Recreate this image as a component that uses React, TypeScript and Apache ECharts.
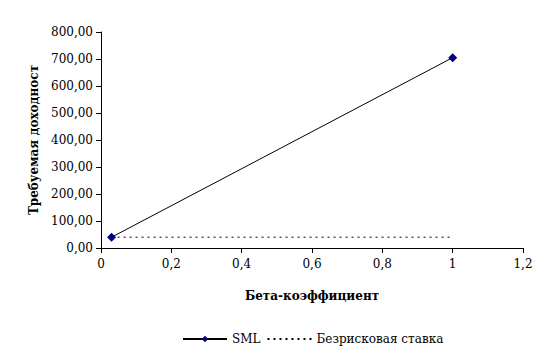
import React, { useEffect, useRef } from "react";
import * as echarts from "echarts";

const betaValues = [0.03, 1];
const smlValues = [40, 705];
const riskFreeValues = [40, 40];
const seriesNames = ["SML", "Безрисковая ставка"];
const xTitle = "Бета-коэффициент";
const yTitle = "Требуемая доходност";

const font = "DejaVu Serif";

export default function App() {
  const ref = useRef<HTMLDivElement>(null);
  useEffect(() => {
    if (!ref.current) return;
    const chart = echarts.init(ref.current, null, { renderer: "svg" });
    chart.setOption({
      animation: false,
      backgroundColor: "#ffffff",
      textStyle: { fontFamily: font, color: "#000" },
      grid: { left: 101, right: 31, top: 32, bottom: 114 },
      legend: {
        bottom: 12,
        left: 177,
        itemWidth: 44,
        itemHeight: 8,
        itemGap: 6,
        textStyle: { fontFamily: font, fontSize: 12, color: "#000" },
        data: [
          { name: seriesNames[0] },
          { name: seriesNames[1], itemStyle: { opacity: 0 } },
        ],
      },
      xAxis: {
        type: "value",
        min: 0,
        max: 1.2,
        interval: 0.2,
        name: xTitle,
        nameLocation: "middle",
        nameGap: 42,
        nameTextStyle: { fontFamily: font, fontSize: 12, fontWeight: "bold", color: "#000" },
        axisLine: { show: true, onZero: false, lineStyle: { color: "#000", width: 1 } },
        axisTick: { show: true, inside: false, length: 5, lineStyle: { color: "#000" } },
        axisLabel: {
          fontFamily: font,
          fontSize: 12,
          color: "#000",
          margin: 10,
          formatter: (v: number) => String(Math.round(v * 10) / 10).replace(".", ","),
        },
        splitLine: { show: false },
      },
      yAxis: {
        type: "value",
        min: 0,
        max: 800,
        interval: 100,
        name: yTitle,
        nameLocation: "middle",
        nameGap: 60,
        nameRotate: 90,
        nameTextStyle: { fontFamily: font, fontSize: 12, fontWeight: "bold", color: "#000" },
        axisLine: { show: true, lineStyle: { color: "#000", width: 1 } },
        axisTick: { show: true, inside: false, length: 5, lineStyle: { color: "#000" } },
        axisLabel: {
          fontFamily: font,
          fontSize: 12,
          color: "#000",
          margin: 8,
          formatter: (v: number) => v.toFixed(2).replace(".", ","),
        },
        splitLine: { show: false },
      },
      series: [
        {
          name: seriesNames[0],
          type: "line",
          data: betaValues.map((b, i) => [b, smlValues[i]]),
          symbol: "diamond",
          symbolSize: 9,
          showAllSymbol: true,
          itemStyle: { color: "#000080" },
          lineStyle: { color: "#000", width: 1 },
        },
        {
          name: seriesNames[1],
          type: "line",
          data: betaValues.map((b, i) => [b, riskFreeValues[i]]),
          symbol: "none",
          itemStyle: { color: "#000" },
          lineStyle: { color: "#000", width: 1, type: [2, 4] },
        },
      ],
    });
    return () => chart.dispose();
  }, []);
  return <div ref={ref} style={{ width: 554, height: 362, margin: -8 }} />;
}
